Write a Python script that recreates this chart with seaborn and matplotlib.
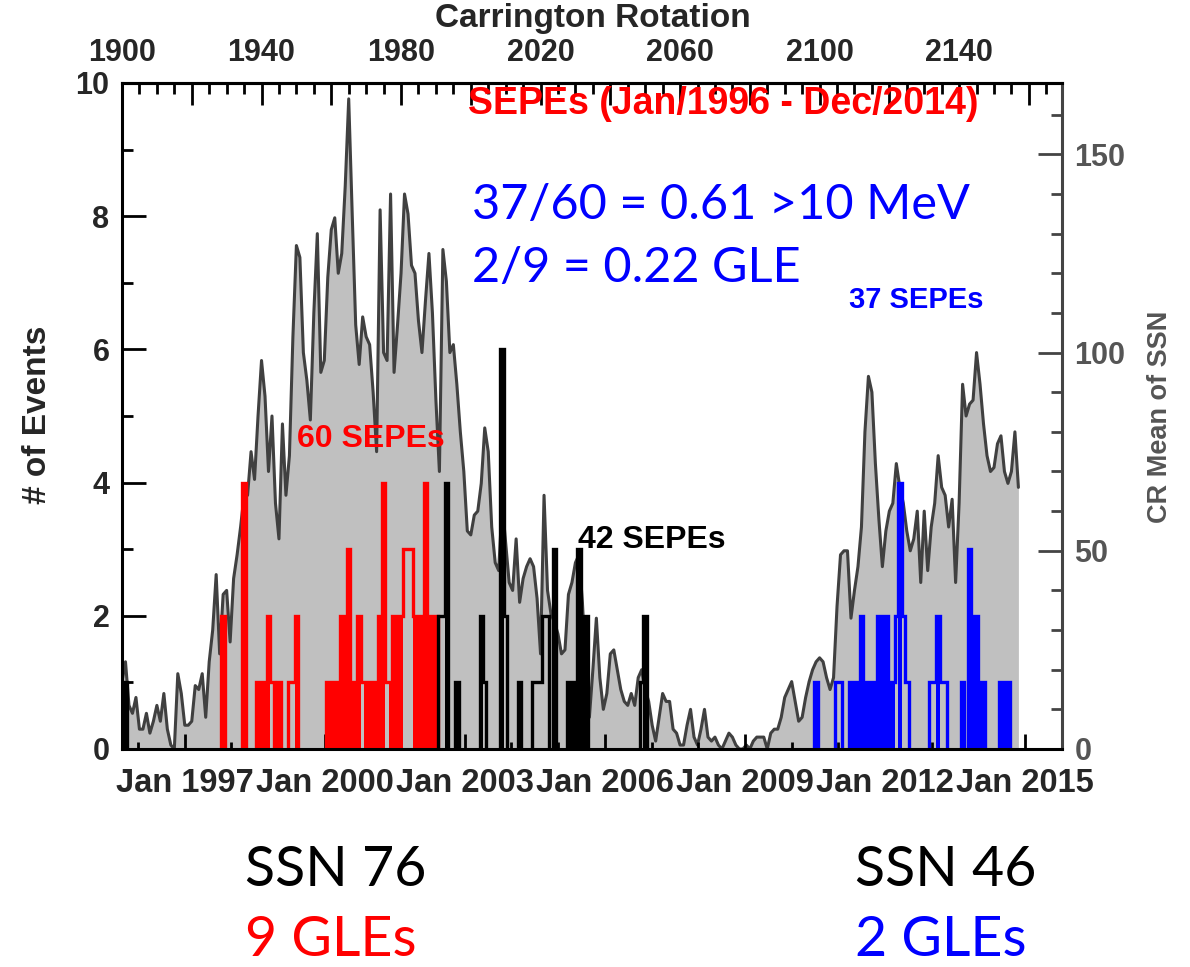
import numpy as np
import pandas as pd
import matplotlib
matplotlib.use("Agg")
import matplotlib.pyplot as plt
import seaborn as sns
from matplotlib.ticker import MultipleLocator, FuncFormatter

# ---------------- data ----------------
ssn_first_cr = 1900
ssn_mean = [
    17, 22, 11, 9, 13, 5, 5, 9, 4, 7,            # 1900-1909
    11, 7, 14, 5, 1, 0, 19, 14, 6, 6,            # 1910
    7, 16, 15, 19, 8, 22, 30, 44, 24, 39,        # 1920
    40, 27, 43, 49, 56, 64, 64, 75, 68, 84,      # 1930
    98, 89, 70, 84, 62, 53, 82, 64, 74, 104,     # 1940
    127, 124, 100, 93, 83, 110, 130, 95, 98, 119,  # 1950
    131, 134, 120, 125, 142, 164, 135, 107, 97, 109,  # 1960
    104, 102, 90, 75, 136, 100, 98, 140, 95, 107,  # 1970
    120, 140, 135, 122, 120, 108, 100, 113, 125, 110,  # 1980
    88, 70, 126, 118, 100, 102, 92, 80, 70, 55,  # 1990
    54, 59, 60, 67, 81, 75, 56, 47, 45, 62,      # 2000
    52, 42, 40, 53, 37, 43, 46, 48, 46, 38,      # 2010
    24, 64, 40, 34, 32, 29, 24, 25, 39, 42,      # 2020
    47, 49, 37, 20, 8, 20, 33, 18, 10, 14,       # 2030
    24, 25, 20, 15, 12, 11, 14, 11, 18, 20,      # 2040
    15, 12, 6, 2, 8, 14, 12, 12, 5, 4,           # 2050
    1, 1, 6, 10, 3, 1, 5, 10, 3, 2,              # 2060
    3, 1, 0, 2, 4, 3, 1, 0, 0, 1,                # 2070
    0, 2, 3, 3, 3, 0, 4, 5, 5, 8,                # 2080
    13, 15, 17, 12, 7, 8, 13, 17, 20, 22,        # 2090
    23, 22, 18, 15, 18, 36, 49, 50, 50, 33,      # 2100
    40, 46, 56, 80, 94, 90, 72, 58, 46, 55,      # 2110
    60, 62, 72, 66, 62, 55, 50, 53, 60, 42,      # 2120
    60, 45, 56, 62, 74, 66, 64, 56, 63, 42,      # 2130
    62, 92, 84, 87, 88, 100, 92, 82, 74, 70,     # 2140
    71, 77, 79, 70, 67, 70, 80, 66,              # 2150-2157
]

# SEP events per Carrington rotation (count, and whether the bar is filled)
red_cr = [1929, 1935, 1939, 1940, 1941, 1942, 1943, 1945, 1948, 1949, 1950,
          1959, 1960, 1961, 1962, 1963, 1964, 1965, 1966, 1967, 1968, 1969,
          1970, 1971, 1972, 1973, 1974, 1975, 1976, 1977, 1978, 1979, 1980,
          1981, 1982, 1983, 1984, 1985, 1986, 1987, 1988, 1989, 1990]
red_n = [2, 4, 1, 1, 1, 2, 1, 1, 1, 1, 2,
         1, 1, 1, 1, 2, 2, 3, 1, 1, 2, 1,
         1, 1, 1, 1, 2, 4, 1, 1, 2, 2, 2,
         3, 3, 3, 2, 2, 2, 4, 2, 2, 2]
red_fill = [1, 1, 1, 1, 1, 1, 0, 1, 0, 0, 1,
            1, 1, 1, 1, 1, 1, 1, 1, 1, 1, 0,
            1, 1, 1, 1, 1, 1, 0, 1, 1, 1, 1,
            0, 0, 0, 1, 1, 1, 1, 1, 1, 1]

black_cr = [1901, 1991, 1992, 1993, 1996, 2003, 2004, 2009, 2010, 2014,
            2018, 2019, 2020, 2021, 2022, 2024, 2028, 2029, 2030, 2031,
            2032, 2033, 2049, 2050]
black_n = [1, 2, 2, 4, 1, 2, 1, 6, 2, 1,
           1, 1, 1, 2, 2, 3, 1, 1, 1, 3,
           2, 2, 1, 2]
black_fill = [1, 0, 0, 1, 1, 1, 0, 1, 0, 1,
              0, 0, 0, 0, 0, 1, 1, 1, 1, 1,
              1, 1, 0, 1]

blue_cr = [2099, 2105, 2106, 2109, 2110, 2111, 2112, 2113, 2114, 2115, 2116,
           2117, 2118, 2119, 2120, 2121, 2122, 2123, 2124, 2125,
           2132, 2133, 2134, 2135, 2136, 2141, 2143, 2144, 2145, 2146, 2147,
           2152, 2153, 2154]
blue_n = [1, 1, 1, 1, 1, 1, 2, 1, 1, 1, 1,
          2, 2, 2, 1, 1, 2, 4, 2, 1,
          1, 1, 2, 1, 1, 1, 3, 2, 2, 1, 1,
          1, 1, 1]
blue_fill = [1, 0, 0, 1, 1, 1, 1, 1, 1, 1, 1,
             1, 1, 1, 1, 1, 0, 1, 0, 0,
             0, 0, 1, 0, 0, 1, 1, 1, 1, 1, 1,
             1, 1, 1]

major_years = [1997, 2000, 2003, 2006, 2009, 2012, 2015]
minor_years = list(range(1996, 2016))
top_labels = [1900, 1940, 1980, 2020, 2060, 2100, 2140]

# Carrington rotation reference (CR 1900 start) and synodic period
cr_ref_date = "1995-08-31"
cr_period_days = 27.2753


def date_to_cr(d):
    return 1900 + (pd.Timestamp(d) - pd.Timestamp(cr_ref_date)).days / cr_period_days


# ---------------- style ----------------
sns.set_theme(style="ticks")
plt.rcParams["font.family"] = ["Liberation Sans", "DejaVu Sans"]
plt.rcParams["font.weight"] = "bold"

W, H = 1190, 967
fig = plt.figure(figsize=(W / 100, H / 100), dpi=100)
ax = fig.add_axes([122 / W, 1 - 749 / H, (1062 - 122) / W, (749 - 83) / H])
ax2 = ax.twinx()
ax.set_zorder(ax2.get_zorder() + 1)
ax.patch.set_visible(False)

# SSN curve (right axis)
cr = np.arange(ssn_first_cr, ssn_first_cr + len(ssn_mean))
ssn_df = pd.DataFrame({"cr": cr, "ssn": ssn_mean})
ax2.fill_between(ssn_df["cr"], 0, ssn_df["ssn"], color="#c0c0c0", lw=0)
sns.lineplot(data=ssn_df, x="cr", y="ssn", ax=ax2, color="#404040", lw=2.2)
ax2.set_ylim(0, 168)
ax2.set_xlabel("")
ax2.set_ylabel("")

# event histograms (left axis)
xmin, xmax = 1900, 2169.5
edges = np.arange(1898.5, 2171.5, 1.0)
centers = edges[:-1] + 0.5
for crs, ns, fl, col in [(red_cr, red_n, red_fill, "#ff0000"),
                         (black_cr, black_n, black_fill, "#000000"),
                         (blue_cr, blue_n, blue_fill, "#0000ff")]:
    n_arr = np.zeros(len(centers))
    f_arr = np.zeros(len(centers))
    idx = np.array(crs) - 1899
    n_arr[idx] = ns
    f_arr[idx] = np.array(ns) * np.array(fl)
    ax.bar(centers, f_arr, width=1.0, color=col, linewidth=0, zorder=2.0)
    # outline drawn only over contiguous runs of non-empty rotations
    nz = n_arr > 0
    i = 0
    while i < len(n_arr):
        if nz[i]:
            j = i
            while j < len(n_arr) and nz[j]:
                j += 1
            ax.stairs(n_arr[i:j], edges[i:j + 1], baseline=0, color=col,
                      lw=2.4, zorder=2.1)
            i = j
        else:
            i += 1

ax.set_xlim(xmin, xmax)
ax.set_ylim(0, 10)

# axes frame
for s in ["left", "bottom", "top"]:
    ax.spines[s].set_color("black")
    ax.spines[s].set_linewidth(2.2)
ax.spines["right"].set_color("#444444")
ax.spines["right"].set_linewidth(2.2)
for s in ax2.spines.values():
    s.set_visible(False)

# bottom date ticks
ax.set_xticks([date_to_cr(f"{y}-01-01") for y in major_years])
ax.set_xticklabels([f"Jan {y}" for y in major_years])
ax.set_xticks([date_to_cr(f"{y}-01-01") for y in minor_years], minor=True)
ax.tick_params(axis="x", which="major", direction="in", length=11, width=2,
               labelsize=23.5, pad=14, bottom=True, top=False, color="black")
ax.tick_params(axis="x", which="minor", direction="in", length=5, width=2,
               bottom=True, top=False, color="black")

# left axis
ax.yaxis.set_major_locator(MultipleLocator(2))
ax.yaxis.set_minor_locator(MultipleLocator(1))
ax.tick_params(axis="y", which="major", direction="in", length=17, width=2,
               labelsize=22, pad=9, left=True, right=False, color="black")
ax.tick_params(axis="y", which="minor", direction="in", length=8, width=2,
               left=True, right=False, color="black")

# right axis
ax2.yaxis.set_major_locator(MultipleLocator(50))
ax2.yaxis.set_minor_locator(MultipleLocator(10))
ax2.tick_params(axis="y", which="major", direction="in", length=17, width=2,
                labelsize=22, pad=9, color="#444444", labelcolor="#555555",
                right=True, left=False)
ax2.tick_params(axis="y", which="minor", direction="in", length=8, width=2,
                color="#444444", right=True, left=False)

# top Carrington rotation axis
secax = ax.secondary_xaxis("top")
secax.xaxis.set_major_locator(MultipleLocator(20))
secax.xaxis.set_minor_locator(MultipleLocator(5))
secax.xaxis.set_major_formatter(
    FuncFormatter(lambda v, p: f"{int(round(v))}" if int(round(v)) in top_labels else ""))
secax.tick_params(which="major", direction="in", length=16, width=2,
                  labelsize=22, pad=11, color="black")
secax.tick_params(which="minor", direction="in", length=8, width=2, color="black")
secax.spines["top"].set_linewidth(2.2)
secax.spines["top"].set_color("black")


def ftext(x, y, s, **kw):
    fig.text(x / W, 1 - y / H, s, **kw)


ftext(593, 18, "Carrington Rotation", ha="center", va="center", fontsize=24)
ftext(38, 415, "# of Events", ha="center", va="center", rotation=90, fontsize=24)
ftext(1160, 417, "CR Mean of SSN", ha="center", va="center", rotation=90,
      fontsize=19.5, color="#555555")

ftext(723, 104, "SEPEs (Jan/1996 - Dec/2014)", ha="center", va="center",
      fontsize=27, color="#ff0000")
ftext(371, 439, "60 SEPEs", ha="center", va="center", fontsize=23, color="#ff0000")
ftext(652, 540, "42 SEPEs", ha="center", va="center", fontsize=23, color="#000000")
ftext(916, 300, "37 SEPEs", ha="center", va="center", fontsize=21, color="#0000ff")

big = dict(family=["Lato", "DejaVu Sans"], fontweight="normal")
ftext(472, 205, "37/60 = 0.61 >10 MeV", ha="left", va="center", fontsize=35,
      color="#0000ff", **big)
ftext(472, 268, "2/9 = 0.22 GLE", ha="left", va="center", fontsize=35,
      color="#0000ff", **big)
ftext(245, 870, "SSN 76", ha="left", va="center", fontsize=40, color="black", **big)
ftext(245, 940, "9 GLEs", ha="left", va="center", fontsize=40, color="#ff0000", **big)
ftext(855, 870, "SSN 46", ha="left", va="center", fontsize=40, color="black", **big)
ftext(855, 940, "2 GLEs", ha="left", va="center", fontsize=40, color="#0000ff", **big)

fig.savefig("out.png", dpi=100)
